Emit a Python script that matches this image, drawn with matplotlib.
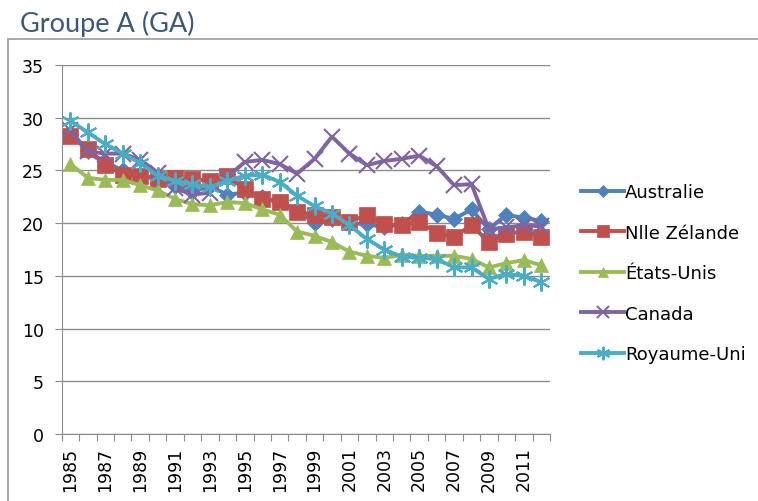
import matplotlib
matplotlib.use("Agg")
import matplotlib.pyplot as plt
from matplotlib.patches import Rectangle
import numpy as np

years = list(range(1985, 2013))
australie = [28.5, 26.8, 25.8, 25.0, 24.6, 24.2, 23.5, 23.0, 23.5, 22.7, 22.9, 22.5, 22.0, 21.2,
             20.0, 20.4, 20.0, 19.9, 19.6, 19.9, 21.1, 20.8, 20.4, 21.3, 19.4, 20.8, 20.5, 20.2]
nlle_zelande = [28.3, 27.0, 25.5, 24.6, 24.5, 24.2, 24.3, 24.2, 24.0, 24.5, 23.2, 22.3, 22.0, 21.1,
                20.8, 20.6, 20.1, 20.8, 19.9, 19.8, 20.1, 19.1, 18.7, 19.8, 18.2, 19.0, 19.2, 18.7]
etats_unis = [25.6, 24.3, 24.1, 24.1, 23.6, 23.1, 22.3, 21.8, 21.7, 22.0, 21.9, 21.3, 20.8, 19.2,
              18.8, 18.2, 17.3, 16.9, 16.7, 17.0, 16.9, 16.9, 16.9, 16.6, 15.8, 16.2, 16.5, 16.0]
canada = [28.8, 26.8, 26.6, 26.6, 26.0, 24.8, 23.3, 22.7, 22.9, 24.4, 25.8, 26.0, 25.6, 24.7,
          26.1, 28.2, 26.6, 25.5, 25.9, 26.1, 26.4, 25.4, 23.6, 23.7, 19.4, 19.6, 19.8, 19.7]
royaume_uni = [29.7, 28.6, 27.5, 26.6, 25.7, 24.5, 24.0, 23.7, 23.4, 24.0, 24.5, 24.6, 23.9, 22.6,
               21.6, 20.9, 19.8, 18.5, 17.5, 16.8, 16.7, 16.6, 15.8, 15.8, 14.7, 15.2, 15.0, 14.4]

series = [
    ("Australie", australie, "#4F81BD", "D", 8),
    ("Nlle Zélande", nlle_zelande, "#C0504D", "s", 11),
    ("États-Unis", etats_unis, "#9BBB59", "^", 10),
    ("Canada", canada, "#8064A2", "x", 12),
    ("Royaume-Uni", royaume_uni, "#4BACC6", (6, 2, 0), 13),
]

plt.rcParams["font.family"] = ["DejaVu Sans"]

fig = plt.figure(figsize=(7.58, 5.02), dpi=100)
fig.patches.append(Rectangle((8 / 758, -0.01), 1.0, 1 - 40 / 502 + 0.01,
                             transform=fig.transFigure, fill=False,
                             edgecolor="#9a9a9a", linewidth=1.2))
fig.text(20 / 758, 1 - 24 / 502, "Groupe A (GA)", fontsize=19.5, color="#3d5876",
         family=["Lato", "DejaVu Sans"], va="center", ha="left")

ax = fig.add_axes([61.7 / 758, 1 - 435 / 502, (550 - 61.7) / 758, (435 - 66) / 502])
x = np.arange(len(years))
for name, vals, col, mk, ms in series:
    mew = 1.5 if mk in ("x", (6, 2, 0)) else 0.5
    ax.plot(x, vals, color=col, lw=2.8, marker=mk, markersize=ms,
            markeredgecolor=col, markeredgewidth=mew, label=name)

ax.set_ylim(0, 35)
ax.set_xlim(-0.5, len(years) - 0.5)
ax.set_yticks(range(0, 36, 5))
ax.yaxis.grid(True, color="#8c8c8c", lw=1)
ax.set_axisbelow(True)
ax.tick_params(axis="y", length=5, color="#8c8c8c", labelsize=12.5, pad=8)

ax.set_xticks(np.arange(-0.5, len(years), 1.0))
ax.set_xticklabels([])
ax.tick_params(axis="x", which="major", length=5, color="#8c8c8c")
ax.set_xticks(x[::2], minor=True)
ax.set_xticklabels([str(y) for y in years[::2]], minor=True, rotation=90)
ax.tick_params(axis="x", which="minor", length=0, labelsize=12.5, pad=9)

for side in ("top", "right"):
    ax.spines[side].set_visible(False)
for side in ("left", "bottom"):
    ax.spines[side].set_color("#8c8c8c")

ax.legend(loc="center left", bbox_to_anchor=(1.03, 0.436), frameon=False,
          fontsize=13, labelspacing=1.25, handlelength=2.4, handletextpad=0.05,
          markerscale=0.75)

fig.savefig("out.png", dpi=100)
